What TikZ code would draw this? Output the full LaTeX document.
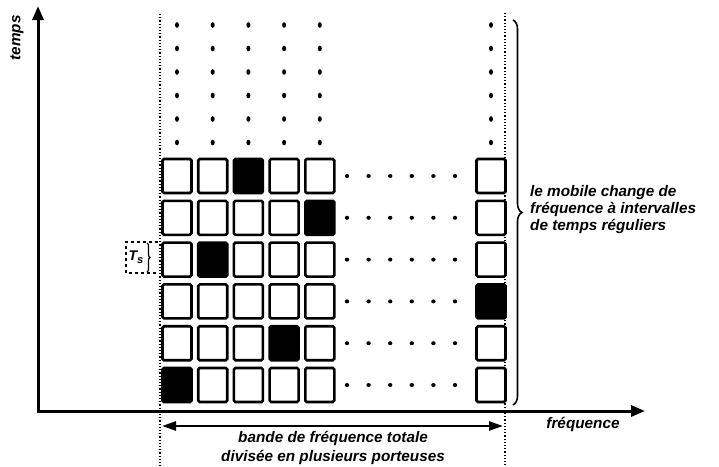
\documentclass[tikz,border=0pt]{standalone}
\usepackage{fontspec}
\setmainfont{Liberation Sans}
\usetikzlibrary{arrows.meta,decorations.pathreplacing}

\begin{document}
\begin{tikzpicture}[x=1pt,y=-1pt,
    slot/.style={draw,line width=2.6pt,rounded corners=1.5pt,minimum width=29pt,minimum height=34pt,inner sep=0pt},
    lbl/.style={font=\fontsize{15.3}{18.5}\selectfont\bfseries\itshape,inner sep=0pt},
    axis/.style={line width=3pt,-{Triangle[length=14pt,width=11pt]}}]
    \useasboundingbox (0,0) rectangle (719,466);

    % Band limits
    \coordinate (L0) at (160,14);
    \coordinate (L1) at (160,466);
    \coordinate (R0) at (505,13);
    \coordinate (R1) at (505,466);
    \draw[dotted,line width=1.2pt] (L0) -- (L1);
    \draw[dotted,line width=1.2pt] (R0) -- (R1);

    % Axes
    \coordinate (O) at (38,411);
    \coordinate (T) at (38,6);
    \coordinate (F) at (645,411);
    \draw[axis] ([yshift=1.5pt]O) -- (T);
    \draw[axis] ([xshift=-1.5pt]O) -- (F);
    \node[lbl,rotate=90] (temps) at (17,38) {temps};
    \node[lbl] (freq) at (583,424) {fréquence};

    % Slots (row / hopped carrier)
    \foreach \r/\h in {1/3,2/5,3/2,4/6,5/4,6/1}{
      \foreach \c in {1,...,6}{
        \pgfmathsetmacro\xc{ifthenelse(\c==6,491,177+35.7*(\c-1))}
        \pgfmathtruncatemacro\shade{ifthenelse(\c==\h,100,0)}
        \node[slot,fill=black!\shade] (s\c\r) at (\xc,{176+41.8*(\r-1)}) {};
      }
      \foreach \k in {0,...,5}
        \fill ({347+21.6*\k},{176+41.8*(\r-1)}) ellipse (2.2pt and 2pt);
    }

    % Later time slots
    \foreach \x in {177,212.7,248.4,284.1,319.8,491}
      \foreach \k in {0,...,5}
        \fill (\x,{25+23.5*\k}) ellipse (2pt and 2.8pt);

    % Symbol period
    \coordinate (Ts0) at (158,242);
    \coordinate (Ts1) at (158,273);
    \draw[dashed,line width=1.2pt] (Ts0) -- (126,242) -- (126,273) -- (Ts1);
    \draw[decorate,decoration={brace,amplitude=3pt},line width=1.2pt] (147,243) -- (147,272);
    \node[font=\fontsize{14}{16}\selectfont\bfseries\itshape] (ts) at (136,257) {T\lower3pt\hbox{\fontsize{11}{12}\selectfont s}};

    % Hopping brace
    \coordinate (B0) at (513,20);
    \coordinate (B1) at (513,405);
    \draw[decorate,decoration={brace,amplitude=9pt},line width=1.6pt] (B0) -- (B1);
    \node[font=\fontsize{15.3}{17}\selectfont\bfseries\itshape,inner sep=0pt,anchor=west,align=left] (hop) at (530,210) {le mobile change de\\fréquence à intervalles\\de temps réguliers};

    % Total band
    \coordinate (W0) at (162,426);
    \coordinate (W1) at (503,426);
    \draw[line width=2.5pt,{Triangle[length=14pt,width=9pt]}-{Triangle[length=14pt,width=9pt]}] (W0) -- (W1);
    \node[lbl,align=center] (band) at (333,448) {bande de fréquence totale\\divisée en plusieurs porteuses};
\end{tikzpicture}
\end{document}
